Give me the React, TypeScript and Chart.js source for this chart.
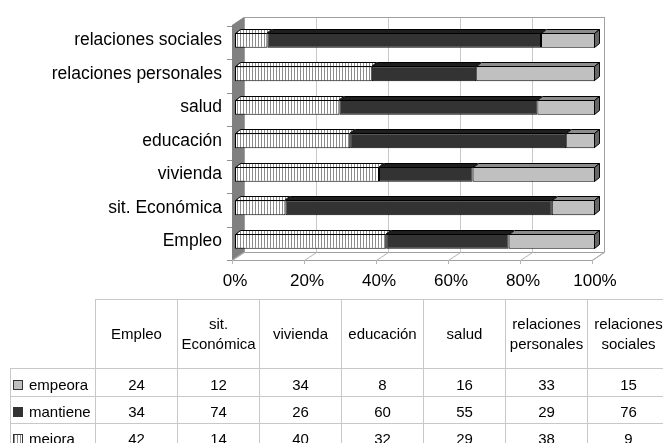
import React, { useEffect, useRef } from "react";
import { Chart, registerables } from "chart.js";

Chart.register(...registerables);

// ---- data ----
const categories = [
  "Empleo",
  "sit. Económica",
  "vivienda",
  "educación",
  "salud",
  "relaciones personales",
  "relaciones sociales",
];
const tableHeaders = [
  ["Empleo"],
  ["sit.", "Económica"],
  ["vivienda"],
  ["educación"],
  ["salud"],
  ["relaciones", "personales"],
  ["relaciones", "sociales"],
];
const seriesNames = ["empeora", "mantiene", "mejora"];
const empeora = [24, 12, 34, 8, 16, 33, 15];
const mantiene = [34, 74, 26, 60, 55, 29, 76];
const mejora = [42, 14, 40, 32, 29, 38, 9];
const xTicks = [0, 20, 40, 60, 80, 100];

const FONT = '"Liberation Sans", Arial, sans-serif';

function makeStripePattern(): CanvasPattern | string {
  const c = document.createElement("canvas");
  c.width = 3;
  c.height = 3;
  const g = c.getContext("2d");
  if (!g) return "#e0e0e0";
  g.fillStyle = "#ffffff";
  g.fillRect(0, 0, 3, 3);
  g.fillStyle = "#8c8c8c";
  g.fillRect(0, 0, 1, 3);
  const p = g.createPattern(c, "repeat");
  return p || "#e0e0e0";
}

const DX = 12; // wall depth
const DY = -8;
const FX = -3; // wall front plane offset from bar front plane
const FY = 2;
const BDX = 5; // bar depth
const BDY = -4;

const depthPlugin = {
  id: "depth3d",
  beforeDatasetsDraw(chart: any) {
    const { ctx, chartArea, scales } = chart;
    const xs = scales.x;
    const ys = scales.y;
    const { top, bottom } = chartArea;
    const x0F = Math.round(xs.getPixelForValue(0) + FX);
    const x1F = Math.round(xs.getPixelForValue(100) + FX);
    const yFloorF = Math.round(bottom + FY);
    const yFloorB = yFloorF + DY;
    const yTopB = Math.round(top - 7);
    ctx.save();
    ctx.lineWidth = 1;
    // back wall
    ctx.fillStyle = "#ffffff";
    ctx.fillRect(x0F + DX, yTopB, x1F - x0F, yFloorB - yTopB);
    ctx.strokeStyle = "#c8c8c8";
    for (const v of xTicks) {
      const xb = Math.round(xs.getPixelForValue(v) + FX + DX) + 0.5;
      ctx.beginPath();
      ctx.moveTo(xb, yTopB);
      ctx.lineTo(xb, yFloorB);
      ctx.stroke();
    }
    ctx.strokeStyle = "#a0a0a0";
    ctx.strokeRect(x0F + DX + 0.5, yTopB + 0.5, x1F - x0F, yFloorB - yTopB);
    // floor
    ctx.beginPath();
    ctx.moveTo(x0F, yFloorF + 0.5);
    ctx.lineTo(x0F + DX, yFloorB + 0.5);
    ctx.lineTo(x1F + DX, yFloorB + 0.5);
    ctx.lineTo(x1F, yFloorF + 0.5);
    ctx.closePath();
    ctx.fillStyle = "#ffffff";
    ctx.fill();
    ctx.strokeStyle = "#a0a0a0";
    ctx.stroke();
    ctx.strokeStyle = "#b4b4b4";
    for (const v of xTicks) {
      const xf = Math.round(xs.getPixelForValue(v) + FX) + 0.5;
      ctx.beginPath();
      ctx.moveTo(xf, yFloorF + 0.5);
      ctx.lineTo(xf + DX, yFloorB + 0.5);
      ctx.moveTo(xf, yFloorF);
      ctx.lineTo(xf, yFloorF + 4);
      ctx.stroke();
    }
    // left wall
    ctx.beginPath();
    ctx.moveTo(x0F, yTopB - DY);
    ctx.lineTo(x0F + DX, yTopB);
    ctx.lineTo(x0F + DX, yFloorB);
    ctx.lineTo(x0F, yFloorF);
    ctx.closePath();
    ctx.fillStyle = "#808080";
    ctx.fill();
    // category ticks on wall front edge
    ctx.strokeStyle = "#909090";
    const n = categories.length;
    for (let k = 0; k <= n; k++) {
      const yy = Math.round(ys.top + (k * ys.height) / n + FY) + 0.5;
      ctx.beginPath();
      ctx.moveTo(x0F - 5, yy);
      ctx.lineTo(x0F, yy);
      ctx.stroke();
    }
    ctx.restore();
  },
  afterDatasetsDraw(chart: any) {
    const { ctx } = chart;
    const nd = chart.data.datasets.length;
    ctx.save();
    ctx.lineWidth = 1;
    ctx.strokeStyle = "#000";
    for (let d = 0; d < nd; d++) {
      const ds: any = chart.data.datasets[d];
      const meta = chart.getDatasetMeta(d);
      meta.data.forEach((el: any) => {
        const p = el.getProps(["x", "y", "base", "height"], true);
        const l = Math.round(Math.min(p.x, p.base)) + 0.5;
        const r = Math.round(Math.max(p.x, p.base)) - 0.5;
        const t = Math.round(p.y - p.height / 2) + 0.5;
        const b = Math.round(p.y + p.height / 2) - 0.5;
        // top face
        ctx.beginPath();
        ctx.moveTo(l, t);
        ctx.lineTo(l + BDX, t + BDY);
        ctx.lineTo(r + BDX, t + BDY);
        ctx.lineTo(r, t);
        ctx.closePath();
        ctx.fillStyle = ds.topColor;
        ctx.fill();
        ctx.stroke();
        if (d === nd - 1) {
          ctx.beginPath();
          ctx.moveTo(r, t);
          ctx.lineTo(r + BDX, t + BDY);
          ctx.lineTo(r + BDX, b + BDY);
          ctx.lineTo(r, b);
          ctx.closePath();
          ctx.fillStyle = ds.sideColor;
          ctx.fill();
          ctx.stroke();
        }
      });
    }
    ctx.restore();
  },
};

function ChartCanvas() {
  const ref = useRef<HTMLCanvasElement | null>(null);
  useEffect(() => {
    if (!ref.current) return;
    const stripe = makeStripePattern();
    const chart = new Chart(ref.current, {
      type: "bar",
      data: {
        labels: categories,
        datasets: [
          {
            label: seriesNames[2],
            data: mejora,
            backgroundColor: stripe as any,
            topColor: stripe,
            sideColor: "#bbbbbb",
            borderColor: "#000",
            borderWidth: 1,
            borderSkipped: false,
          } as any,
          {
            label: seriesNames[1],
            data: mantiene,
            backgroundColor: "#333333",
            topColor: "#1e1e1e",
            sideColor: "#111111",
            borderColor: "#000",
            borderWidth: 1,
            borderSkipped: false,
          } as any,
          {
            label: seriesNames[0],
            data: empeora,
            backgroundColor: "#c0c0c0",
            topColor: "#8c8c8c",
            sideColor: "#666666",
            borderColor: "#000",
            borderWidth: 1,
            borderSkipped: false,
          } as any,
        ],
      },
      options: {
        indexAxis: "y",
        responsive: false,
        animation: false,
        devicePixelRatio: 1,
        layout: { padding: { top: 21, right: 68, bottom: 0, left: 0 } },
        datasets: { bar: { barPercentage: 0.45, categoryPercentage: 1 } },
        plugins: { legend: { display: false }, tooltip: { enabled: false }, title: { display: false } },
        scales: {
          x: {
            type: "linear",
            stacked: true,
            min: 0,
            max: 100,
            grid: { display: false, drawTicks: false, tickLength: 0 },
            border: { display: false },
            ticks: {
              padding: 13,
              color: "#000",
              font: { family: FONT, size: 17 },
              callback: (v: any) => v + "%",
            },
            afterBuildTicks: (s: any) => {
              s.ticks = xTicks.map((v) => ({ value: v }));
            },
            afterFit: (s: any) => {
              s.height = 42;
            },
          },
          y: {
            type: "category",
            stacked: true,
            reverse: true,
            grid: { display: false, drawTicks: false, tickLength: 0 },
            border: { display: false },
            ticks: {
              padding: 13,
              color: "#000",
              font: { family: FONT, size: 17.5 },
            },
            afterFit: (s: any) => {
              s.width = 235;
            },
          },
        },
      } as any,
      plugins: [depthPlugin],
    });
    return () => chart.destroy();
  }, []);
  return (
    <canvas
      ref={ref}
      width={663}
      height={300}
      style={{ position: "absolute", left: 0, top: 0, width: 663, height: 300 }}
    />
  );
}

const BORDER = "1px solid #c8c8c8";

const markerStyles: Record<string, React.CSSProperties> = {
  empeora: { background: "#c0c0c0" },
  mantiene: { background: "#333333" },
  mejora: {
    background: "repeating-linear-gradient(90deg, #8c8c8c 0px, #8c8c8c 1px, #ffffff 1px, #ffffff 3px)",
  },
};

function DataTable() {
  const rows = [
    { name: seriesNames[0], values: empeora },
    { name: seriesNames[1], values: mantiene },
    { name: seriesNames[2], values: mejora },
  ];
  const cell: React.CSSProperties = {
    border: BORDER,
    textAlign: "center",
    padding: 0,
    fontWeight: "normal",
  };
  return (
    <table
      style={{
        position: "absolute",
        left: 10,
        top: 299,
        borderCollapse: "collapse",
        tableLayout: "fixed",
        width: 85 + 7 * 82,
        fontFamily: FONT,
        fontSize: 15,
        color: "#000",
      }}
    >
      <colgroup>
        <col style={{ width: 85 }} />
        {categories.map((c) => (
          <col key={c} style={{ width: 82 }} />
        ))}
      </colgroup>
      <thead>
        <tr style={{ height: 69 }}>
          <th style={{ border: "none", borderRight: BORDER, borderBottom: BORDER, padding: 0 }}></th>
          {tableHeaders.map((h, i) => (
            <th key={i} style={{ ...cell, lineHeight: "20px", verticalAlign: "middle" }}>
              {h.map((line, j) => (
                <div key={j}>{line}</div>
              ))}
            </th>
          ))}
        </tr>
      </thead>
      <tbody>
        {rows.map((r, ri) => (
          <tr key={r.name} style={{ height: ri === 0 ? 28 : 27 }}>
            <td style={{ ...cell, textAlign: "left", paddingLeft: 2, paddingTop: 3, whiteSpace: "nowrap" }}>
              <span
                style={{
                  display: "inline-block",
                  width: 8,
                  height: 8,
                  border: "1px solid #333",
                  marginRight: 6,
                  verticalAlign: "0px",
                  ...markerStyles[r.name],
                }}
              />
              {r.name}
            </td>
            {r.values.map((v, i) => (
              <td key={i} style={{ ...cell, paddingTop: 3 }}>
                {v}
              </td>
            ))}
          </tr>
        ))}
      </tbody>
    </table>
  );
}

export default function App() {
  return (
    <div
      style={{
        position: "absolute",
        left: 0,
        top: 0,
        width: 663,
        height: 443,
        overflow: "hidden",
        background: "#fff",
      }}
    >
      <ChartCanvas />
      <DataTable />
    </div>
  );
}
